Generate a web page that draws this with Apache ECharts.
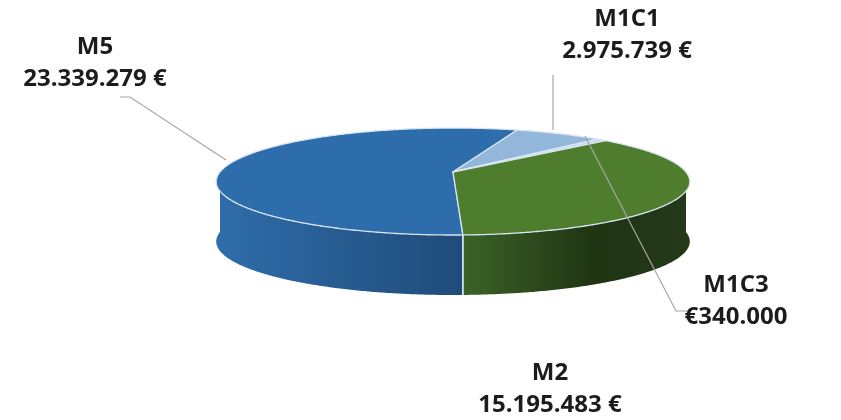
<!DOCTYPE html>
<html>
<head>
<meta charset="utf-8">
<script src="https://cdn.jsdelivr.net/npm/echarts@6/dist/echarts.min.js"></script>
<style>html,body{margin:0;padding:0;background:#fff}#c{width:841px;height:420px}</style>
</head>
<body>
<div id="c"></div>
<script>
// ---- data ----
const categories = ['M5', 'M1C1', 'M1C3', 'M2'];
const values = [23339279, 2975739, 340000, 15195483];
const valueLabels = ['23.339.279 €', '2.975.739 €', '€340.000', '15.195.483 €'];

// ---- styling / layout ----
const topColors = ['#2E6DAB', '#93B7DB', '#C8DAEE', '#4E7E2D'];
const sideStops = [
  [{offset: 0, color: '#2F6DAA'}, {offset: 0.52, color: '#1F4B79'}],
  [{offset: 0, color: '#7E9FC2'}, {offset: 1, color: '#5E7FA2'}],
  [{offset: 0, color: '#A9BCD2'}, {offset: 1, color: '#8FA2B8'}],
  [{offset: 0.5, color: '#3E6527'}, {offset: 0.8, color: '#1F3413'}, {offset: 1, color: '#23391A'}]
];
const CX = 453, CY = 172, RX = 233, RY = 51.8, PERSP = 0.178, DEPTH = 60;
const START_DEG = -88;
const total = values.reduce((a, b) => a + b, 0);

function P(t, dz) {
  const X = Math.cos(t), Z = Math.sin(t);
  const s = 1 / (1 + PERSP * Z);
  return [CX + RX * X * s, CY - RY * Z * s + dz];
}

function renderItem(params, api) {
  const i = params.dataIndex;
  const v = api.value(0);
  let cum = 0;
  for (let k = 0; k < i; k++) cum += values[k];
  const a0 = (START_DEG - cum / total * 360) * Math.PI / 180;
  const a1 = a0 - v / total * 360 * Math.PI / 180;
  const step = 0.5 * Math.PI / 180;
  let ts = [];
  const n = Math.max(2, Math.ceil((a0 - a1) / step) + 1);
  for (let k = 0; k < n; k++) ts.push(a0 - (a0 - a1) * k / (n - 1));
  for (let m = Math.ceil(a1 / Math.PI); m <= Math.floor(a0 / Math.PI); m++) ts.push(m * Math.PI);
  ts.sort((x, y) => y - x);
  const children = [];
  const topPts = [[CX, CY]].concat(ts.map(t => P(t, 0)));
  children.push({
    type: 'polygon', z2: 10,
    shape: {points: topPts},
    style: {fill: topColors[i], stroke: '#D8E5F2', lineWidth: 1.3, lineJoin: 'round'}
  });
  let runs = [], cur = [];
  ts.forEach(t => {
    if (Math.sin(t) <= 1e-9) cur.push(t);
    else { if (cur.length > 1) runs.push(cur); cur = []; }
  });
  if (cur.length > 1) runs.push(cur);
  const grad = new echarts.graphic.LinearGradient(217, 0, 690, 0, sideStops[i], true);
  runs.forEach(r => {
    const top = r.map(t => P(t, 0));
    const bot = r.map(t => P(t, DEPTH)).reverse();
    children.push({
      type: 'polygon', z2: 1,
      shape: {points: top.concat(bot)},
      style: {fill: grad, stroke: null}
    });
    [r[0], r[r.length - 1]].forEach(t => {
      if (Math.abs(Math.sin(t)) > 0.05) {
        children.push({
          type: 'line', z2: 2,
          shape: {x1: P(t, 0)[0], y1: P(t, 0)[1], x2: P(t, DEPTH)[0], y2: P(t, DEPTH)[1]},
          style: {stroke: '#D8E5F2', lineWidth: 1.3}
        });
      }
    });
  });
  return {type: 'group', children};
}

const labelPos = [[95, 63], [627, 35], [736, 301], [550, 389]];
const leaderLines = [
  [[120, 97], [130, 97], [226, 160]],
  [[553, 75], [553, 130]],
  [[585, 136], [676, 311], [688, 311]]
];

const chart = echarts.init(document.getElementById('c'), null, {renderer: 'canvas'});
chart.setOption({
  animation: false,
  series: [{
    type: 'custom',
    coordinateSystem: 'none',
    renderItem: renderItem,
    data: values.map((v, i) => ({name: categories[i], value: [v]}))
  }],
  graphic: categories.map((c, i) => ({
    type: 'text', z: 100,
    x: labelPos[i][0], y: labelPos[i][1],
    style: {
      text: c + '\n' + valueLabels[i],
      fontFamily: 'Open Sans', fontWeight: 'bold', fontSize: 24, fill: '#1C1C1C',
      textAlign: 'center', textVerticalAlign: 'middle', lineHeight: 32
    }
  })).concat(leaderLines.map(pts => ({
    type: 'polyline', z: 90,
    shape: {points: pts},
    style: {stroke: '#A6A6A6', lineWidth: 1.2, fill: null}
  })))
});
</script>
</body>
</html>
